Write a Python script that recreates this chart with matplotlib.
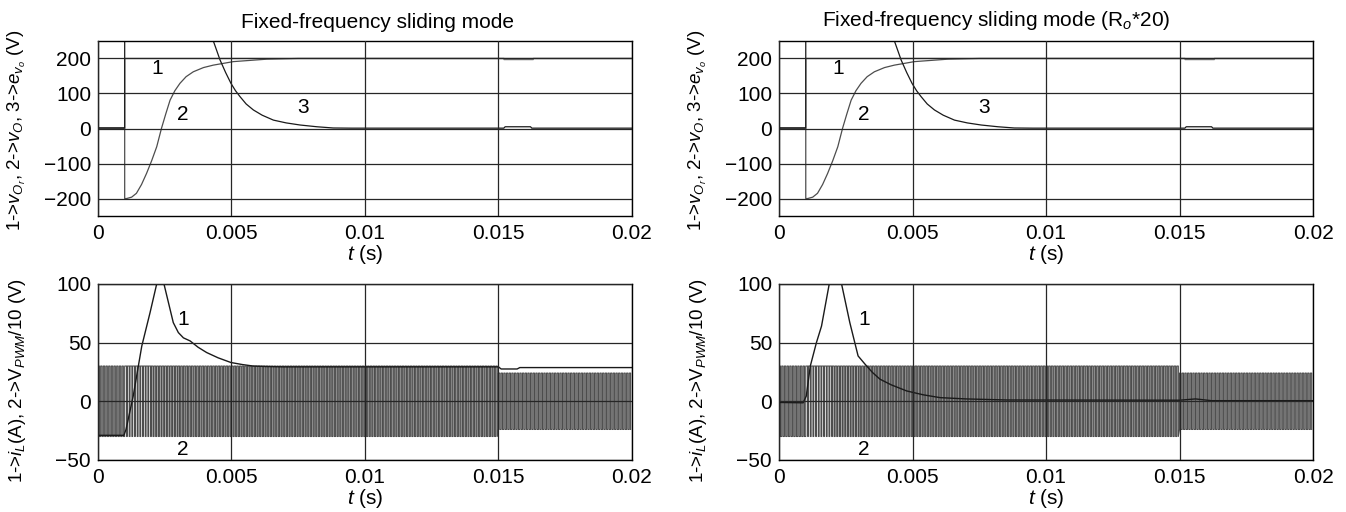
import numpy as np
import matplotlib
matplotlib.use("Agg")
import matplotlib.pyplot as plt

plt.rcParams['font.family'] = ['Liberation Sans', 'DejaVu Sans']
plt.rcParams['mathtext.fontset'] = 'custom'
plt.rcParams['mathtext.rm'] = 'Liberation Sans'
plt.rcParams['mathtext.it'] = 'Liberation Sans:italic'

# tensao de referencia (1), tensao de saida (2) e erro (3) - graficos de cima
t_ref = [0, 0.001, 0.001, 0.0152, 0.01521, 0.0163, 0.01631, 0.02]
v_ref = [0, 0, 200, 200, 197, 197, 200, 200]

t_vo = [0, 0.001, 0.001, 0.00107, 0.00126, 0.00144, 0.00163, 0.00182, 0.00201, 0.0022, 0.00238,
        0.00254, 0.0027, 0.00288, 0.00307, 0.0033, 0.00357, 0.00395, 0.00432, 0.00507, 0.00632, 0.0075, 0.02]
v_vo = [0, 0, -200, -200, -196, -185, -160, -128, -92, -52, 1,
        42, 81, 108, 129, 148, 162, 174, 181, 191, 198, 200, 200]

t_err = [0, 0.001, 0.001, 0.0038, 0.00432, 0.00445, 0.00457, 0.00478, 0.00498, 0.00515, 0.00532,
         0.00555, 0.00582, 0.00615, 0.00657, 0.00705, 0.00757, 0.0082, 0.00881, 0.0095,
         0.0152, 0.01525, 0.0162, 0.01625, 0.02]
v_err = [2, 2, 400, 400, 250, 222, 196, 160, 129, 108, 91,
         70, 53, 38, 24, 16, 10, 5, 1.5, 1,
         1, 5, 5, 1, 1]

# corrente no indutor (1) - carga nominal e carga *20
t_il = [0, 0.00097, 0.00105, 0.00132, 0.00164, 0.00195, 0.0022, 0.00233, 0.00247, 0.00282, 0.00301,
        0.0032, 0.00345, 0.00375, 0.00407, 0.0045, 0.00498, 0.0054, 0.00581, 0.0063, 0.00693,
        0.015, 0.0151, 0.0157, 0.0158, 0.02]
v_il = [-29, -29, -24, 4.5, 47, 75.5, 100, 104, 100, 67, 58.5,
        54, 51.4, 46, 41.5, 37, 33, 31.3, 30, 29.6, 29.3,
        29.3, 27.5, 27.5, 28.7, 28.7]

t_il20 = [0, 0.0009, 0.00102, 0.00117, 0.0014, 0.00159, 0.00188, 0.0021, 0.00234, 0.00265, 0.00296,
          0.00322, 0.0035, 0.00378, 0.0042, 0.00478, 0.0054, 0.00603, 0.007, 0.00852,
          0.015, 0.0156, 0.0162, 0.02]
v_il20 = [-1, -1.3, 4.5, 30, 50, 64, 100, 106, 100, 67, 38.6,
          31.6, 24.5, 18.8, 14, 8.8, 5.5, 3.1, 2, 1.1,
          0.9, 2, 0.5, 0.5]

# PWM/10: frequencia fixa, amplitude antes/depois do degrau de carga
pwm_freq = 10000
pwm_amp = [30, 24]
pwm_step = 0.015
pwm_duty = [0.5, 0.7, 0.6, 0.55, 0.55, 0.55, 0.55, 0.55, 0.55, 0.55,
            0.55, 0.55, 0.55, 0.55, 0.55, 0.5, 0.5, 0.5, 0.5, 0.5]

x_ticks = [0, 0.005, 0.01, 0.015, 0.02]
x_labels = ['0', '0.005', '0.01', '0.015', '0.02']
top_ticks = [-200, -100, 0, 100, 200]
bot_ticks = [-50, 0, 50, 100]

fs = 15


def pwm_wave():
    n = int(round(0.02 * pwm_freq))
    t, v = [], []
    for k in range(n):
        t0 = k / pwm_freq
        d = pwm_duty[int(t0 * 1000)]
        a = pwm_amp[0] if t0 < pwm_step else pwm_amp[1]
        t1 = t0 + d / pwm_freq
        t += [t0, t0, t1, t1]
        v += [-a, a, a, -a]
    return t, v


fig = plt.figure(figsize=(13.46, 5.12), dpi=100)
left = [0.0728, 0.5788]
width = 0.3967
ax_top = [fig.add_axes([l, 0.578, width, 0.342]) for l in left]
ax_bot = [fig.add_axes([l, 0.1016, width, 0.344]) for l in left]


def style(ax, yt, ylim):
    ax.set_xlim(0, 0.02)
    ax.set_ylim(*ylim)
    ax.set_xticks(x_ticks)
    ax.set_xticklabels(x_labels)
    ax.set_yticks(yt)
    ax.tick_params(length=0, labelsize=fs, pad=6)
    ax.tick_params(axis='y', pad=5)
    ax.grid(True, color='0.15', lw=0.9)
    ax.set_axisbelow(False)
    for s in ax.spines.values():
        s.set_linewidth(1.0)
    ax.set_xlabel(r'$t$ (s)', fontsize=fs, labelpad=0)


for i, ax in enumerate(ax_top):
    style(ax, top_ticks, (-250, 250))
    ax.plot(t_ref, v_ref, color='0.45', lw=1.0)
    ax.plot(t_vo, v_vo, color='0.3', lw=0.9)
    ax.plot(t_err, v_err, color='0.1', lw=0.9)
    ax.set_ylabel(r'1->$v_{O_r}$, 2->$v_O$, 3->$e_{v_o}$ (V)', fontsize=13.5)
    ax.yaxis.set_label_coords(-0.132, 0.49)
    ax.text(0.00221, 170, '1', fontsize=fs, ha='center', va='center')
    ax.text(0.00318, 39, '2', fontsize=fs, ha='center', va='center')
    ax.text(0.00767, 59, '3', fontsize=fs, ha='center', va='center')

ax_top[0].text(0.524, 1.05, 'Fixed-frequency sliding mode', transform=ax_top[0].transAxes,
               fontsize=fs, ha='center', va='bottom')
ax_top[1].text(0.407, 1.05, r'Fixed-frequency sliding mode (R$_o$*20)', transform=ax_top[1].transAxes,
               fontsize=fs, ha='center', va='bottom')

tp, vp = pwm_wave()
curves = [(t_il, v_il), (t_il20, v_il20)]
for i, ax in enumerate(ax_bot):
    style(ax, bot_ticks, (-50, 100))
    ax.plot(tp, vp, color='0.3', lw=0.8)
    ax.plot(curves[i][0], curves[i][1], color='0.1', lw=1.0)
    ax.set_ylabel(r'1->$i_L$(A), 2->V$_{PWM}$/10 (V)', fontsize=13.5)
    ax.yaxis.set_label_coords(-0.132, 0.45)
    ax.text(0.00318, 70, '1', fontsize=fs, ha='center', va='center')
    ax.text(0.00318, -41, '2', fontsize=fs, ha='center', va='center')

fig.savefig('out.png', dpi=100)
